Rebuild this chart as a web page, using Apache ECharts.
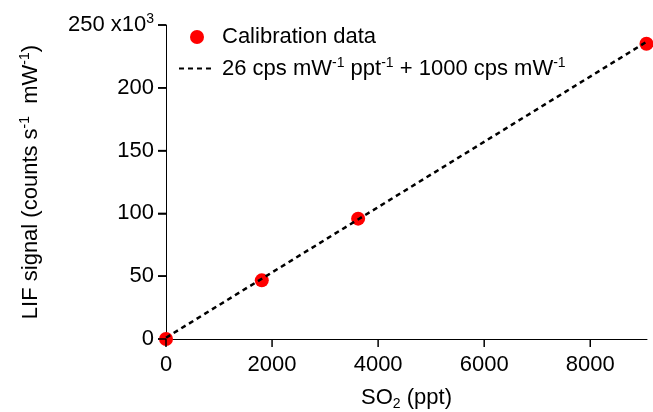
<!DOCTYPE html>
<html><head><meta charset="utf-8">
<script src="https://cdn.jsdelivr.net/npm/echarts@6/dist/echarts.min.js"></script>
<style>html,body{margin:0;padding:0;background:#fff}#c{width:653px;height:412px}</style>
</head><body><div id="c"></div>
<script>
const so2 = [0, 1806, 3623, 9060];
const lif = [0, 46700, 95800, 235100];
const fitSlope = 26;
const fitIntercept = 1000;
const fitRange = [0, 9060];
const xTicks = [0, 2000, 4000, 6000, 8000];
const yTicks = [0, 50000, 100000, 150000, 200000, 250000];
const legendNames = ['Calibration data', '26 cps mW⁻¹ ppt⁻¹ + 1000 cps mW⁻¹'];

const font = 'Liberation Sans, Arial, Helvetica, sans-serif';
const FS = 22;
const TICK = 8;
const chart = echarts.init(document.getElementById('c'));
const sup = {fontSize: 14, verticalAlign: 'top', padding: [0,0,11,0], fontFamily: font, color: '#000'};

function tickSeries(dir, values) {
  return {
    type: 'custom', name: dir + 'ticks', silent: true, clip: false, z: 5,
    coordinateSystem: 'cartesian2d',
    data: values.map(v => dir === 'x' ? [v, 0] : [0, v]),
    renderItem: function (params, api) {
      const p = api.coord([api.value(0), api.value(1)]);
      if (dir === 'x') {
        return {type: 'line', shape: {x1: p[0], y1: p[1], x2: p[0], y2: p[1] + TICK}, style: {stroke: '#000', lineWidth: 1.5}};
      }
      return {type: 'line', shape: {x1: p[0], y1: p[1], x2: p[0] - TICK, y2: p[1]}, style: {stroke: '#000', lineWidth: 1.5}};
    }
  };
}

chart.setOption({
  animation: false,
  grid: {left: 166, right: 6, top: 25, bottom: 73, containLabel: false, outerBoundsMode: 'none'},
  legend: {
    left: 173, top: 21, orient: 'vertical', itemGap: 8, itemWidth: 36, itemHeight: 14,
    data: [{name: legendNames[0], icon: 'circle'}, {name: legendNames[1], itemStyle: {opacity: 0}}],
    formatter: function (n) {
      if (n === legendNames[1]) return '{t|26 cps mW}{s|-1}{t| ppt}{s|-1}{t| + 1000 cps mW}{s|-1}';
      return '{t|' + n + '}';
    },
    textStyle: {rich: {t: {fontSize: FS, fontFamily: font, color: '#000'}, s: sup}, padding: [0,0,0,2]}
  },
  xAxis: {
    type: 'value', min: 0, max: 9070, interval: 2000,
    name: '{t|SO}{b|2}{t| (ppt)}', nameLocation: 'middle', nameGap: 46,
    nameTextStyle: {rich: {t: {fontSize: FS, fontFamily: font, color: '#000'}, b: {fontSize: 14, fontFamily: font, color: '#000', verticalAlign: 'bottom', padding: [12,0,0,0]}}},
    axisLine: {show: true, onZero: false, lineStyle: {color: '#000', width: 1}},
    axisTick: {show: false},
    axisLabel: {showMaxLabel: false, fontSize: FS, fontFamily: font, color: '#000', margin: 15,
      formatter: function (v) { return xTicks.indexOf(v) >= 0 ? String(v) : ''; }},
    splitLine: {show: false}
  },
  yAxis: {
    type: 'value', min: 0, max: 250000, interval: 50000,
    name: '{t|LIF signal (counts s}{s|-1}{t|  mW}{s|-1}{t|)}', nameLocation: 'middle', nameGap: 123, nameRotate: 90,
    nameTextStyle: {rich: {t: {fontSize: FS, fontFamily: font, color: '#000'}, s: sup}},
    axisLine: {show: true, onZero: false, lineStyle: {color: '#000', width: 1}},
    axisTick: {show: true, length: TICK, lineStyle: {color: '#000', width: 1.5}},
    axisLabel: {
      fontSize: FS, fontFamily: font, color: '#000', margin: 12,
      formatter: function (v) {
        if (v === yTicks[yTicks.length - 1]) return '{t|250 x10}{s|3}';
        return '{t|' + (v / 1000) + '}';
      },
      rich: {t: {fontSize: FS, fontFamily: font, color: '#000'}, s: sup}
    },
    splitLine: {show: false}
  },
  series: [
    tickSeries('x', xTicks),
    tickSeries('y', yTicks),
    {
      name: legendNames[1], type: 'line', symbol: 'none', z: 3,
      data: fitRange.map(x => [x, fitSlope * x + fitIntercept]),
      lineStyle: {color: '#000', width: 2.5, type: [5, 4]},
      itemStyle: {color: '#000'}
    },
    {
      name: legendNames[0], type: 'scatter', symbolSize: 14, z: 2,
      data: so2.map((x, i) => [x, lif[i]]),
      itemStyle: {color: '#ff0000', opacity: 1}
    }
  ]
});
</script></body></html>
